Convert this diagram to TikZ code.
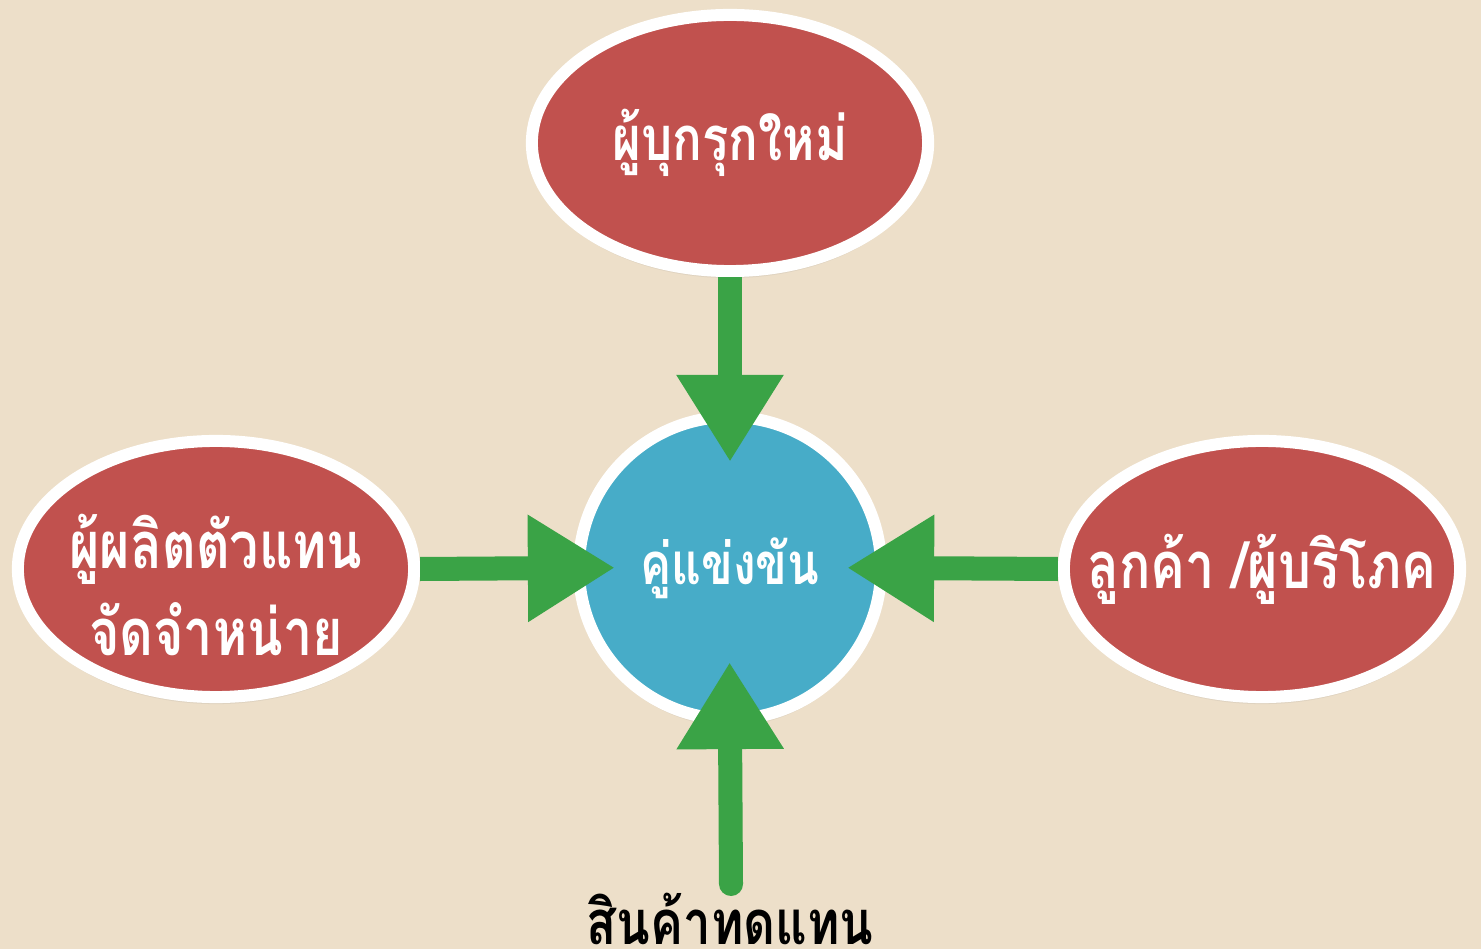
\documentclass[tikz,border=0pt]{standalone}
\usepackage{fontspec}
\newfontfamily\thai[Script=Thai, FakeStretch=0.8]{Loma}
\usetikzlibrary{arrows.meta,shadows,shapes.geometric}
\definecolor{paper}{HTML}{EDDFC9}
\definecolor{brick}{HTML}{C1514E}
\definecolor{sky}{HTML}{47ACC8}
\definecolor{leaf}{HTML}{3AA346}
\begin{document}
\begin{tikzpicture}[x=0.01cm, y=-0.01cm, align=center,
    force/.style={ellipse, draw=white, line width=0.12cm, fill=brick,
      inner xsep=-0.4cm, inner ysep=0pt,
      minimum width=3.96cm, minimum height=2.56cm, text=white,
      font=\thai\bfseries\fontsize{18.5}{25}\selectfont,
      drop shadow={opacity=0.12, shadow xshift=0pt, shadow yshift=-2pt}},
    caption/.style={text=white, inner sep=0pt, font=\thai\bfseries\fontsize{18.5}{25}\selectfont},
    hub/.style={circle, draw=white, line width=0.12cm, fill=sky, inner sep=0pt,
      minimum size=3.02cm, text=white, font=\thai\bfseries\fontsize{16.5}{25}\selectfont,
      drop shadow={opacity=0.12, shadow xshift=0pt, shadow yshift=-2pt}},
    push/.style={draw=leaf, line width=0.24cm, -{Triangle[length=0.87cm, width=1.01cm]}}]
      \fill[paper] (0,0) rectangle (1481,949);
      \useasboundingbox (0,0) rectangle (1481,949);
      %
      \node[force, font=\thai\bfseries\fontsize{17.5}{25}\selectfont] (entrant) at (730,143) {ผู้บุกรุกใหม่};
      \node[force] (maker) at (216,569) {};
      \node[caption] (makerlabel) at (216,585) {ผู้ผลิตตัวแทน\\จัดจำหน่าย};
      \node[force] (buyer) at (1262,569) {ลูกค้า /ผู้บริโภค};
      \node[hub] (rival) at (730,568) {คู่แข่งขัน};
      %
      \node[font=\thai\bfseries\fontsize{17.5}{20}\selectfont, anchor=base] (subst) at (730,944) {สินค้าทดแทน};
      \coordinate (tail) at (731,884);
      %
      \draw[push, shorten >=-0.51cm] (entrant.south) -- (rival.north);
      \draw[push, shorten >=-0.42cm] (maker.east) -- (rival.west);
      \draw[push, shorten >=-0.40cm] (buyer.west) -- (rival.east);
      \draw[push, line cap=round, shorten >=-0.63cm] (tail) -- (rival.south);
    \end{tikzpicture}
\end{document}
